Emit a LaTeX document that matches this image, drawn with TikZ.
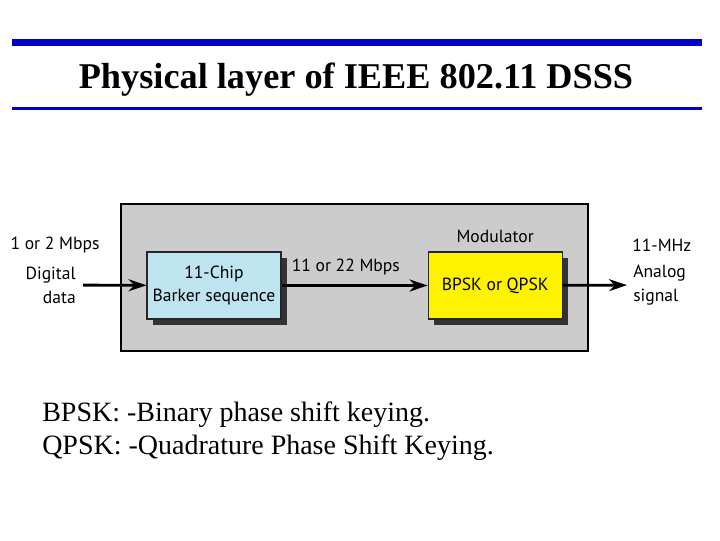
\documentclass[tikz,border=0pt]{standalone}
\usepackage{fontspec}
\setmainfont{Liberation Serif}
\newfontfamily\diagfont{PT Sans}
\usepackage{xcolor}
\usetikzlibrary{positioning, arrows.meta, shadows}

\definecolor{rulebl}{RGB}{0,0,204}
\definecolor{chipbl}{RGB}{190,228,240}
\definecolor{panelgr}{RGB}{204,204,204}

\begin{document}
\begin{tikzpicture}[
    x=0.025cm, y=-0.025cm,
    block/.style={rectangle, draw=black!85, line width=0.8pt, minimum width=3.35cm, minimum height=1.675cm,
        font=\fontsize{12.5}{16}\diagfont, align=center, fill=#1,
        drop shadow={shadow xshift=0.15cm, shadow yshift=-0.15cm, fill=black!80, opacity=1}},
    block/.default=chipbl,
    panel/.style={rectangle, draw=black, line width=1pt, fill=panelgr, minimum width=11.675cm, minimum height=3.675cm},
    flow/.style={-{Stealth[length=4.5mm, width=3mm]}, line width=2pt},
    label/.style={font=\fontsize{12.5}{17}\diagfont, inner sep=0pt},
    rule/.style={draw=rulebl, line width=#1},
    title/.style={font=\fontsize{25.8}{30}\selectfont\bfseries},
    note/.style={font=\fontsize{19.9}{23.6}\selectfont, align=left, inner sep=0pt},
]
\useasboundingbox (0,0) rectangle (720,540);

% Title and rules
\draw[rule=5pt] (12,42.5) -- (702,42.5);
\node[title] (title) at (356,80) {Physical layer of IEEE 802.11 DSSS};
\draw[rule=2.5pt] (12,108.5) -- (702,108.5);

% Transmitter panel
\node[panel] (panel) at (354.5,277.5) {};

% Blocks
\node[block] (barker) at (214,285.5) {11-Chip\\Barker sequence};
\node[block=yellow, right=3.65cm of barker] (modulator) {BPSK or QPSK};
\node[label, above=0.2cm of modulator] (modname) {Modulator};

% Input and output
\node[label, align=right, anchor=east] (indata) at (76,285) {Digital\\data};
\node[label] (inrate) at (55,245) {1 or 2 Mbps};
\node[label, align=left, anchor=west] (outsig) at (633,285) {Analog\\signal};
\node[label, anchor=west] (outfreq) at (632,245) {11-MHz};

% Arrows
\draw[flow, shorten <=0.175cm] (indata) -- (barker);
\draw[flow] (barker) -- node[label, pos=0.44, above=0.22cm] (chiprate) {11 or 22 Mbps} (modulator);
\draw[flow, shorten >=0.15cm] (modulator) -- (outsig);

% Notes
\node[note, anchor=west] (notes) at (42,431.5) {BPSK: -Binary phase shift keying.\\QPSK: -Quadrature Phase Shift Keying.};

\end{tikzpicture}
\end{document}
